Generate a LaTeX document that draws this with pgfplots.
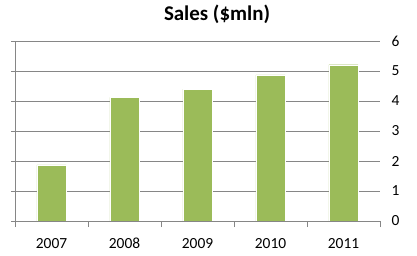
\documentclass[border=0pt]{standalone}
\usepackage{pgfplots}
\pgfplotsset{compat=1.18}
\usepackage{fontspec}
\setmainfont{Carlito}
\definecolor{bargreen}{RGB}{155,187,89}
\definecolor{gridgray}{RGB}{134,134,134}
\begin{document}
\begin{tikzpicture}[x=1bp,y=1bp]
\begin{axis}[
  name=ax,
  scale only axis,
  width=365bp, height=180bp,
  xmin=-0.5, xmax=4.5,
  ymin=0, ymax=6,
  axis line style={draw=none},
  xtick={0,1,2,3,4},
  xticklabels={2007,2008,2009,2010,2011},
  minor xtick={-0.5,0.5,1.5,2.5,3.5,4.5},
  xtick pos=bottom,
  x tick style={draw=none},
  minor x tick style={draw=gridgray, line width=0.8pt},
  minor tick length=6bp,
  ytick={0,1,2,3,4,5,6},
  ytick pos=left,
  yticklabel pos=right,
  y tick style={draw=gridgray, line width=0.8pt},
  tick align=outside,
  major tick length=4bp,
  ymajorgrids,
  grid style={gridgray, line width=0.8pt},
  /pgf/number format/assume math mode=true,
  ticklabel style={font=\fontsize{15.5}{18}\selectfont, text=black},
  yticklabel style={anchor=west, xshift=4bp},
  xticklabel style={anchor=base, yshift=-23bp},
  clip=false,
]
\addplot[ybar, bar width=0.4, fill=bargreen, draw=white, line width=0.4pt] coordinates {
 (0,1.87) (1,4.12) (2,4.40) (3,4.87) (4,5.21)
};
\end{axis}
\draw[gridgray, line width=0.8pt] (ax.south west) -- (ax.north west);
\draw[gridgray, line width=0.8pt] (ax.south west) -- (ax.south east);
\node[font=\fontsize{21}{24}\selectfont\bfseries, anchor=center] at ([xshift=202bp,yshift=27bp]ax.north west) {Sales (\$mln)};
\pgfresetboundingbox
\path[use as bounding box] ([xshift=-15bp,yshift=-34bp]ax.south west) rectangle ([xshift=37bp,yshift=41bp]ax.north east);
\end{tikzpicture}
\end{document}
